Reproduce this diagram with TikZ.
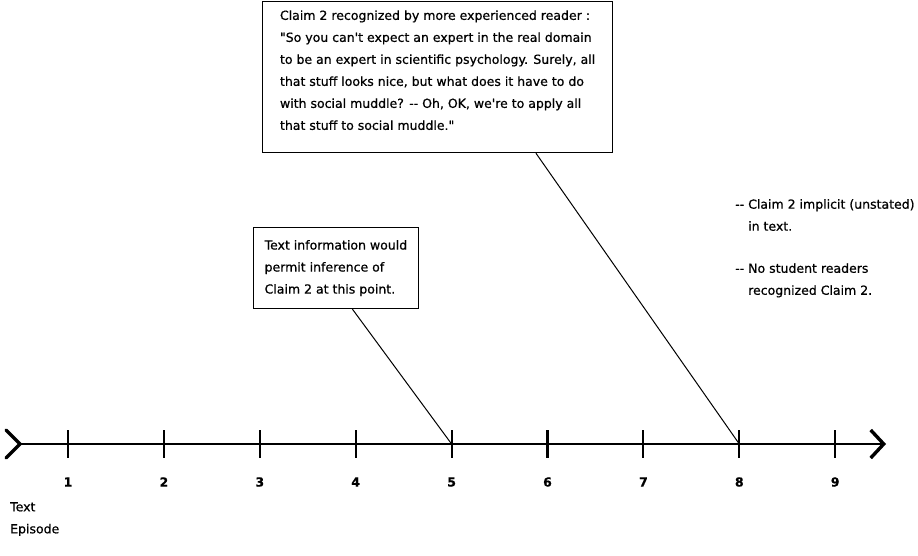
\documentclass[tikz,border=0pt]{standalone}
\usepackage{fontspec}
\setmainfont{DejaVu Sans}[Ligatures=TeXOff, FakeBold=0.7]
\usetikzlibrary{arrows.meta,positioning,calc}
\newcommand\calloutfont{\fontsize{12.5pt}{22pt}\selectfont}
\tikzset{
  axisln/.style={-{Straight Barb[length=13pt,width=28pt,line width=3.4pt]}, line width=2.6pt},
  tailln/.style={line width=3.2pt, line cap=round},
  tickln/.style={line width=2.1pt},
  ticklbl/.style={font=\calloutfont\bfseries},
  callout/.style={draw, line width=1.2pt, align=left, anchor=north west,
    font=\calloutfont, inner xsep=12pt},
  note/.style={align=left, anchor=north west, font=\calloutfont, inner sep=0pt},
  leader/.style={line width=1pt},
}

\begin{document}
\begin{tikzpicture}[x=1pt, y=-1pt]
  \useasboundingbox (0,0) rectangle (918,555);
  % episode axis
  \coordinate (axl) at (20,444);
  \coordinate (axr) at (886,444);
  \draw[axisln] (axl) -- (axr);
  \draw[tailln] ($(axl)+(-14,-14)$) -- (axl) -- ($(axl)+(-14,14)$);
  \foreach \n in {1,...,9} {
    \coordinate (t\n) at ({68+95.9*(\n-1)},444);
    \draw[tickln] ($(t\n)+(0,-14)$) -- ($(t\n)+(0,14)$);
    \node[ticklbl] (lbl\n) at ($(t\n)+(0,38)$) {\n};
  }
  \node[note] (episode) at (10,502) {Text\\Episode};

  % callouts
  \node[callout, minimum width=350pt, minimum height=151pt, text depth=14pt] (recog) at (262,1) {Claim 2 recognized by more experienced reader :\\
    "So you can't expect an expert in the real domain\\
    to be an expert in scientific psychology. Surely, all\\
    that stuff looks nice, but what does it have to do\\
    with social muddle? -- Oh, OK, we're to apply all\\
    that stuff to social muddle."};
  \node[callout, minimum height=81pt, inner xsep=11pt] (infer) at (253,227) {Text information would\\
    permit inference of\\
    Claim 2 at this point.};
  \draw[leader] ($(infer.south west)!0.6!(infer.south east)$) -- (t5);
  \draw[leader] ($(recog.south west)!0.78!(recog.south east)$) -- (t8);

  % side notes
  \node[note] (implicit) at (735,199) {-- Claim 2 implicit (unstated)\\\phantom{-- }in text.};
  \node[note, below=32pt of implicit.south west, anchor=north west] (nostudent) {-- No student readers\\\phantom{-- }recognized Claim 2.};
\end{tikzpicture}
\end{document}
